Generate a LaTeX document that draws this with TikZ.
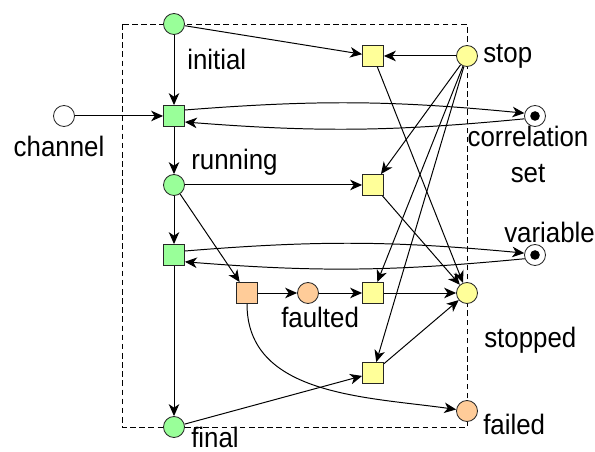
\documentclass[tikz,border=0pt]{standalone}
\usepackage{fontspec}
\setmainfont{Liberation Sans}[FakeStretch=0.92]
\usepackage{tikz}
\usetikzlibrary{arrows.meta}

\definecolor{placegreen}{RGB}{153,255,153}
\definecolor{placeyellow}{RGB}{255,255,153}
\definecolor{placeorange}{RGB}{255,204,153}

\begin{document}
\begin{tikzpicture}[
        >={Stealth[length=8.5pt,width=7.5pt,inset=2.5pt]},
        arc/.style={->,line width=0.7pt},
        place/.style={circle,draw=black!85,line width=0.6pt,minimum size=0.525cm,inner sep=0pt},
        trans/.style={rectangle,draw=black!85,line width=0.6pt,minimum size=0.525cm,inner sep=0pt},
        token/.style={place,fill=white},
        lbl/.style={font=\fontsize{20}{24}\selectfont,inner sep=0pt}
    ]
        \useasboundingbox (0,0) rectangle (14.875,11.3);

        % process boundary
        \draw[dash pattern=on 4pt off 2.5pt,line width=0.6pt] (3.05,10.7) rectangle (11.675,0.625);

        % places and transitions of the process
        \node[place,fill=placegreen] (initial) at (4.35,10.7) {};
        \node[trans,fill=placegreen] (receive) at (4.35,8.4) {};
        \node[place,fill=white] (channel) at (1.6,8.4) {};
        \node[place,fill=placegreen] (running) at (4.35,6.675) {};
        \node[trans,fill=placegreen] (assign) at (4.35,4.925) {};
        \node[place,fill=placegreen] (final) at (4.35,0.625) {};
        \node[token] (corrset) at (13.375,8.4) {};
        \node[token] (variable) at (13.375,4.925) {};
        \foreach \t in {corrset,variable}
            \fill (\t.center) circle (0.12);

        % fault handling
        \node[trans,fill=placeorange] (throw) at (6.175,3.975) {};
        \node[place,fill=placeorange] (faulted) at (7.7,3.975) {};
        \node[place,fill=placeorange] (failed) at (11.675,1.025) {};

        % stopping
        \node[place,fill=placeyellow] (stop) at (11.675,9.9) {};
        \node[trans,fill=placeyellow] (stopinit) at (9.325,9.9) {};
        \node[trans,fill=placeyellow] (stoprun) at (9.325,6.675) {};
        \node[trans,fill=placeyellow] (stopfault) at (9.325,3.975) {};
        \node[trans,fill=placeyellow] (stopfinal) at (9.325,1.975) {};
        \node[place,fill=placeyellow] (stopped) at (11.675,3.975) {};

        % labels
        \node[lbl,anchor=base west] (initial-l) at (4.675,9.55) {initial};
        \node[lbl,anchor=base] (channel-l) at (1.475,7.375) {channel};
        \node[lbl,anchor=base west] (running-l) at (4.775,7.05) {running};
        \node[lbl,anchor=base west] (final-l) at (4.775,0.1) {final};
        \node[lbl,anchor=base west] (stop-l) at (12.075,9.725) {stop};
        \node[lbl,anchor=base] (corrset-l1) at (13.2,7.625) {correlation};
        \node[lbl,anchor=base] (corrset-l2) at (13.2,6.725) {set};
        \node[lbl,anchor=base west] (variable-l) at (12.6,5.225) {variable};
        \node[lbl,anchor=base west] (faulted-l) at (7.025,3.1) {faulted};
        \node[lbl,anchor=base west] (stopped-l) at (12.1,2.6) {stopped};
        \node[lbl,anchor=base west] (failed-l) at (12.075,0.425) {failed};

        % normal flow
        \draw[arc] (initial) -- (receive);
        \draw[arc] (channel) -- (receive);
        \draw[arc] (receive) -- (running);
        \draw[arc] (running) -- (assign);
        \draw[arc] (assign) -- (final);
        \draw[arc] ([yshift=0.15cm]receive.east) to[bend left=5] (corrset.165);
        \draw[arc] (corrset.195) to[bend left=5] ([yshift=-0.15cm]receive.east);
        \draw[arc] ([yshift=0.1cm]assign.east) to[bend left=5] (variable.170);
        \draw[arc] (variable.200) to[bend left=5] ([yshift=-0.17cm]assign.east);

        % fault flow
        \draw[arc] (running) -- (throw);
        \draw[arc] (throw) -- (faulted);
        \draw[arc] (throw) to[out=-90,in=172] (failed);

        % stop flow
        \draw[arc] (initial) -- (stopinit);
        \draw[arc] (running) -- (stoprun);
        \draw[arc] (faulted) -- (stopfault);
        \draw[arc] (final) -- (stopfinal);
        \draw[arc] (stop) -- (stopinit);
        \draw[arc] (stop) -- (stoprun);
        \draw[arc] (stop) -- (stopfault);
        \draw[arc] (stop) -- (stopfinal);
        \draw[arc] (stopinit) -- (stopped);
        \draw[arc] (stoprun) -- (stopped);
        \draw[arc] (stopfault) -- (stopped);
        \draw[arc] (stopfinal) -- (stopped);
\end{tikzpicture}
\end{document}
